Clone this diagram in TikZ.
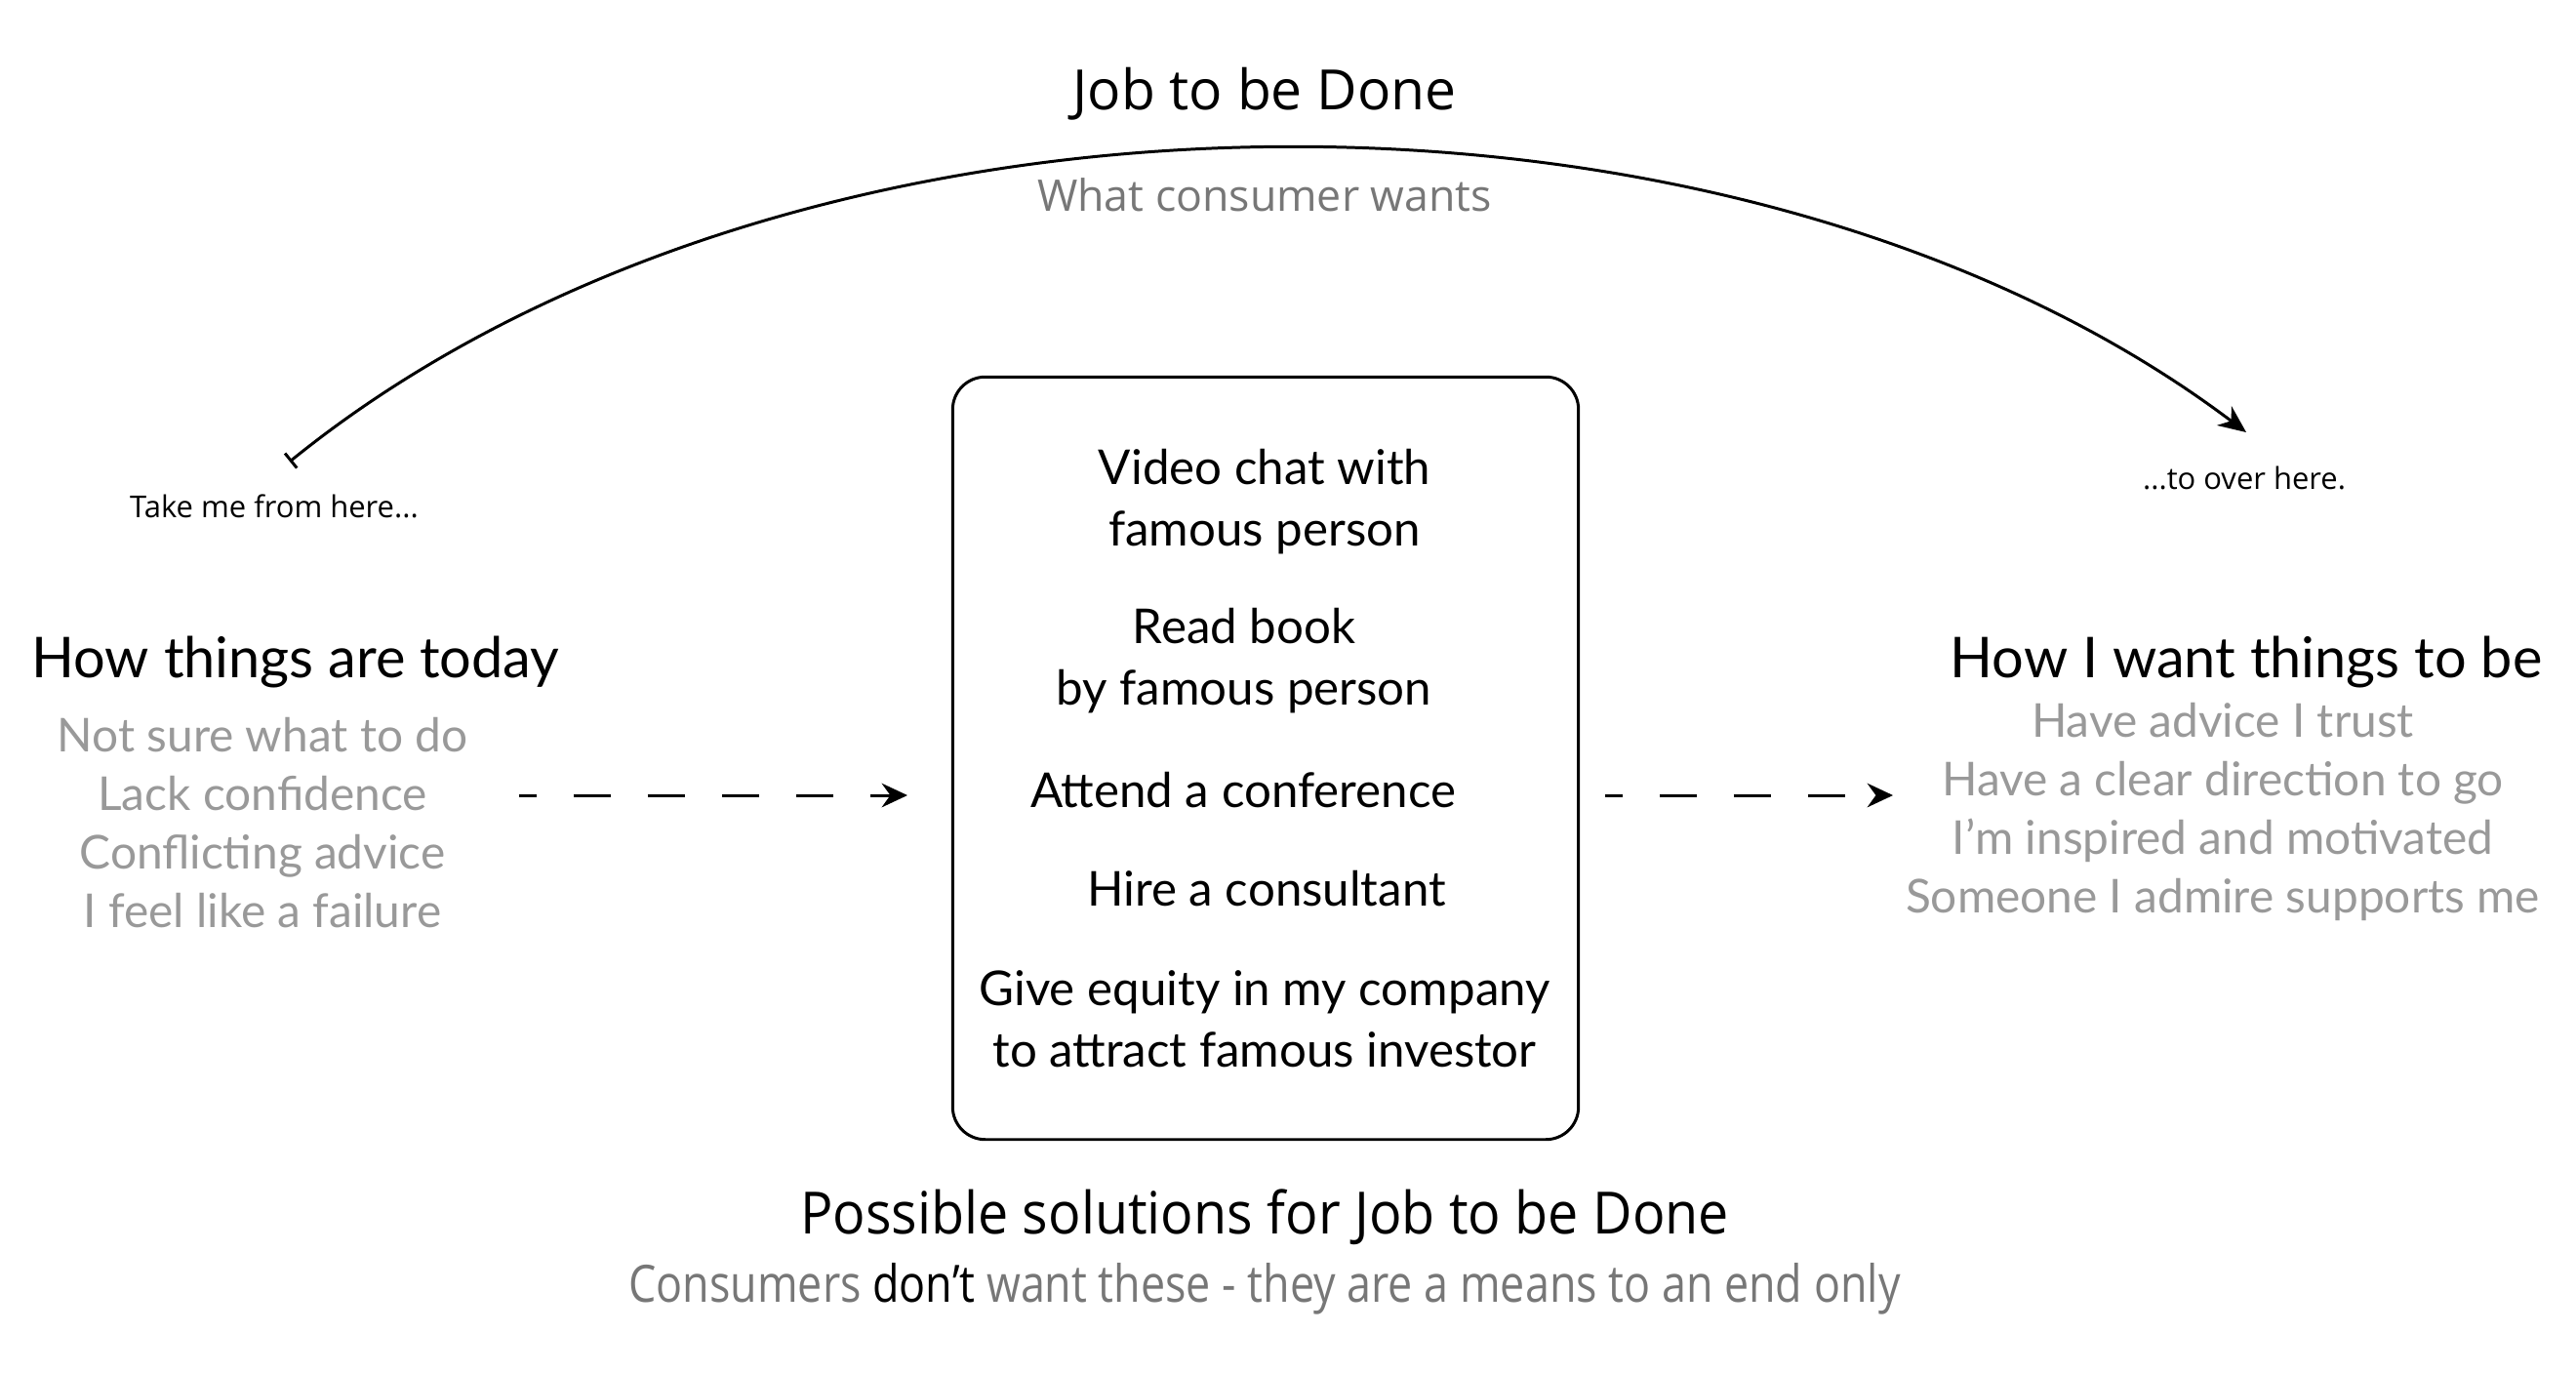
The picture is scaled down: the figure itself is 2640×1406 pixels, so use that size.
\documentclass[tikz,border=0pt]{standalone}
\usepackage{fontspec}
\setmainfont{Lato}
\newfontfamily\myriad{Open Sans}
\newfontfamily\myriadcond[FakeStretch=0.93]{Open Sans}
\newfontfamily\myriadnarrow[FakeStretch=0.85]{Open Sans}
\usepackage{tikz}
\usetikzlibrary{
        arrows.meta,
        positioning
    }
\definecolor{lightgrey}{HTML}{999999}
\definecolor{midgrey}{HTML}{777777}

\begin{document}
\begin{tikzpicture}
[x=0.01cm, y=-0.01cm,
heading/.style={font=\fontsize{16.4}{19}\selectfont, inner sep=0pt, align=center},
wish/.style={font=\fontsize{13.6}{17.1}\selectfont, text=lightgrey, inner sep=0pt, align=center},
solution/.style={font=\fontsize{14}{17.9}\selectfont, inner sep=0pt, align=center},
jobtitle/.style={font=\myriad\fontsize{16.2}{19}\selectfont, inner sep=0pt},
jobsub/.style={font=\myriad\fontsize{12.7}{15}\selectfont, text=midgrey, inner sep=0pt},
hint/.style={font=\myriad\fontsize{8.8}{11}\selectfont, inner sep=0pt},
bottom/.style={font=\myriadcond\fontsize{17}{20}\selectfont, inner sep=0pt},
bottomsub/.style={font=\myriadnarrow\fontsize{15}{18}\selectfont, text=midgrey, inner sep=0pt},
optionbox/.style={draw, line width=0.85pt, rounded corners=9.5pt, minimum width=6.41cm, minimum height=7.81cm},
jobarrow/.style={line width=0.85pt, {Bar[width=5.5pt]}-{Stealth[length=8pt,width=7pt,inset=2.5pt]}},
dasharrow/.style={line width=0.85pt, dash pattern=on 10.8pt off 10.8pt, dash phase=5.7pt, -{Stealth[length=7.5pt,width=7pt,inset=2.5pt]}}]
\useasboundingbox (0,0) rectangle (2640,1406);
\node (job) [jobtitle] at (1296,96) {Job to be Done};
\node (jobwant) [jobsub] at (1296,200) {What consumer wants};
\node (fromhere) [hint] at (281,519) {Take me from here...};
\node (overhere) [hint] at (2300,490) {...to over here.};
\node (today) [heading] at (303,679) {How things are today};
\node (todaylist) [wish] at (269,843) {Not sure what to do\\Lack confidence\\Conflicting advice\\I feel like a failure};
\node (tobe) [heading] at (2302,679) {How I want things to be};
\node (tobelist) [wish] at (2278,832) {Have advice I trust\\Have a clear direction to go\\I’m inspired and motivated\\Someone I admire supports me};
\node (solbox) [optionbox] at (1297,777) {};
\node (opt1) [solution] at (1296,514) {Video chat with\\famous person};
\node (opt2) [solution] at (1275,677) {Read book\\by famous person};
\node (opt3) [solution] at (1274,810) {Attend a conference};
\node (opt4) [solution] at (1298,911) {Hire a consultant};
\node (opt5) [solution] at (1296,1044) {Give equity in my company\\to attract famous investor};
\node (possible) [bottom] at (1296,1247) {Possible solutions for Job to be Done};
\node (means) [bottomsub] at (1296,1321) {Consumers \textcolor{black}{don’t} want these - they are a means to an end only};
\coordinate (arcstart) at (297,473);
\coordinate (arcend) at (2302,443);
\coordinate (leftstart) at (532,815);
\coordinate (leftend) at (930,815);
\coordinate (rightstart) at (1645,815);
\coordinate (rightend) at (1940,815);
\draw[jobarrow] (arcstart) .. controls (819,50) and (1781,50) .. (arcend);
\draw[dasharrow] (leftstart) -- (leftend);
\draw[dasharrow] (rightstart) -- (rightend);
\end{tikzpicture}
\end{document}
